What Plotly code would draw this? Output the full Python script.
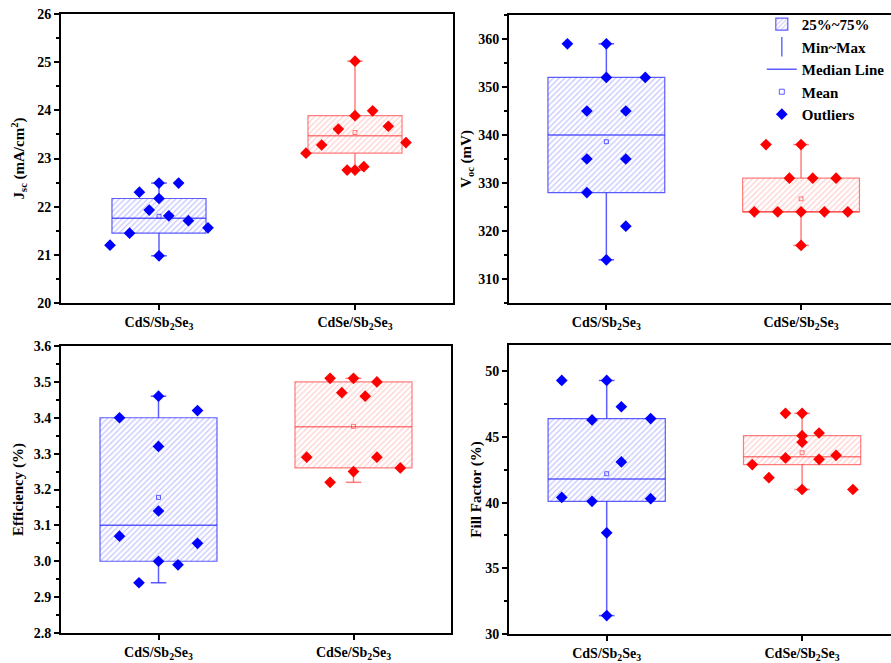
import plotly.graph_objects as go

# ---------------- data ----------------
groups = ["CdS/Sb<sub>2</sub>Se<sub>3</sub>", "CdSe/Sb<sub>2</sub>Se<sub>3</sub>"]
group_x = [1, 2]

# Jsc (mA/cm2)
jsc_cds = [21.20, 21.45, 22.30, 21.93, 22.49, 22.17, 20.98, 21.81, 22.49, 21.71, 21.56]
jsc_cds_off = [-0.25, -0.15, -0.10, -0.05, 0, 0, 0, 0.05, 0.10, 0.15, 0.25]
jsc_cdse = [23.11, 23.28, 23.61, 22.76, 25.02, 23.89, 22.76, 22.83, 23.99, 23.67, 23.33]
jsc_cdse_off = [-0.25, -0.17, -0.085, -0.04, 0, 0, 0, 0.045, 0.09, 0.17, 0.26]
jsc_q1 = [21.45, 23.11]
jsc_med = [21.76, 23.47]
jsc_q3 = [22.17, 23.89]
jsc_mean = [21.80, 23.54]

# Voc (mV)
voc_cds = [359, 359, 352, 352, 345, 345, 335, 335, 328, 321, 314]
voc_cds_off = [-0.20, 0, 0, 0.20, -0.10, 0.10, -0.10, 0.10, -0.10, 0.10, 0]
voc_cdse = [338, 338, 331, 331, 331, 324, 324, 324, 324, 324, 317]
voc_cdse_off = [-0.18, 0, -0.06, 0.06, 0.18, -0.24, -0.12, 0, 0.12, 0.24, 0]
voc_q1 = [328, 324]
voc_med = [340, 324]
voc_q3 = [352, 331]
voc_mean = [338.6, 326.7]

# Efficiency (%)
eff_cds = [3.40, 3.46, 3.42, 3.32, 3.14, 3.07, 3.05, 3.00, 2.99, 2.94]
eff_cds_off = [-0.20, 0, 0.20, 0, 0, -0.20, 0.20, 0, 0.10, -0.10]
eff_cdse = [3.51, 3.51, 3.50, 3.47, 3.46, 3.29, 3.29, 3.26, 3.25, 3.22]
eff_cdse_off = [-0.12, 0, 0.12, -0.06, 0.06, -0.24, 0.12, 0.24, 0, -0.12]
eff_q1 = [3.00, 3.26]
eff_med = [3.10, 3.375]
eff_q3 = [3.40, 3.50]
eff_mean = [3.178, 3.376]

# Fill factor (%)
ff_cds = [49.3, 49.3, 47.3, 46.3, 46.4, 43.1, 40.4, 40.1, 40.3, 37.7, 31.4]
ff_cds_off = [-0.23, 0, 0.075, -0.075, 0.225, 0.075, -0.23, -0.075, 0.225, 0, 0]
ff_cdse = [46.8, 46.8, 45.3, 45.1, 44.6, 43.6, 43.4, 43.3, 42.9, 41.9, 41.0, 41.0]
ff_cdse_off = [-0.085, 0, 0.087, 0, 0, 0.174, -0.085, 0.087, -0.255, -0.17, 0, 0.26]
ff_q1 = [40.1, 42.9]
ff_med = [41.8, 43.5]
ff_q3 = [46.4, 45.1]
ff_mean = [42.2, 43.8]

y_titles = ["J<sub>sc</sub> (mA/cm<sup>2</sup>)", "V<sub>oc</sub> (mV)",
            "Efficiency (%)", "Fill Factor (%)"]

# ---------------- style ----------------
FONT = "Liberation Serif"
pt_col = ["#0000FF", "#FF0000"]
line_col = ["rgba(40,40,255,0.75)", "rgba(255,40,40,0.6)"]
hatch_col = ["rgba(40,40,255,0.55)", "rgba(255,40,40,0.45)"]

panels = [
    dict(vals=[jsc_cds, jsc_cdse], offs=[jsc_cds_off, jsc_cdse_off], q1=jsc_q1, med=jsc_med,
         q3=jsc_q3, mean=jsc_mean, rng=[20, 26], dtick=1, minor=0.5, bw=0.48, so=9,
         xd=[61 / 891, 453 / 891], yd=[(663 - 303) / 663, (663 - 14) / 663], xr=[0.5, 2.5], mir=True),
    dict(vals=[voc_cds, voc_cdse], offs=[voc_cds_off, voc_cdse_off], q1=voc_q1, med=voc_med,
         q3=voc_q3, mean=voc_mean, rng=[305, 365], dtick=10, minor=5, bw=0.6, so=3,
         xd=[509 / 891, 1.0], yd=[(663 - 303) / 663, (663 - 15) / 663], xr=[0.5, 2.462], mir=False),
    dict(vals=[eff_cds, eff_cdse], offs=[eff_cds_off, eff_cdse_off], q1=eff_q1, med=eff_med,
         q3=eff_q3, mean=eff_mean, rng=[2.8, 3.6], dtick=0.1, minor=0.05, bw=0.6, so=6,
         xd=[61 / 891, 451 / 891], yd=[(663 - 633) / 663, (663 - 346) / 663], xr=[0.5, 2.5], mir=True),
    dict(vals=[ff_cds, ff_cdse], offs=[ff_cds_off, ff_cdse_off], q1=ff_q1, med=ff_med,
         q3=ff_q3, mean=ff_mean, rng=[30, 52], dtick=5, minor=2.5, bw=0.6, so=0,
         xd=[509 / 891, 1.0], yd=[(663 - 634) / 663, (663 - 345) / 663], xr=[0.5, 2.455], mir=False),
]

fig = go.Figure()
cap = 0.04

for pi, p in enumerate(panels):
    xa = "x" if pi == 0 else f"x{pi + 1}"
    ya = "y" if pi == 0 else f"y{pi + 1}"
    for gi in range(2):
        gx = group_x[gi]
        vals = p["vals"][gi]
        offs = p["offs"][gi]
        vmin, vmax = min(vals), max(vals)
        first = (pi == 0 and gi == 0)
        # box (25%~75%)
        fig.add_trace(go.Bar(
            x=[gx], y=[p["q3"][gi] - p["q1"][gi]], base=[p["q1"][gi]], width=p["bw"],
            marker=dict(color="white", line=dict(color=line_col[gi], width=1.2),
                        pattern=dict(shape="/", fgcolor=hatch_col[gi], bgcolor="white",
                                     size=4, solidity=0.3)),
            name="25%~75%", showlegend=first, legendrank=1, xaxis=xa, yaxis=ya))
        # whiskers (Min~Max)
        wx = [gx, gx, None, gx, gx, None, gx - cap, gx + cap, None, gx - cap, gx + cap]
        wy = [p["q1"][gi], vmin, None, p["q3"][gi], vmax, None, vmin, vmin, None, vmax, vmax]
        fig.add_trace(go.Scatter(x=wx, y=wy, mode="lines", line=dict(color=line_col[gi], width=1.5),
                                 showlegend=False, xaxis=xa, yaxis=ya))
        # median
        hw = p["bw"] / 2
        fig.add_trace(go.Scatter(x=[gx - hw, gx + hw], y=[p["med"][gi]] * 2, mode="lines",
                                 line=dict(color=line_col[gi], width=1.5),
                                 showlegend=False, xaxis=xa, yaxis=ya))
        # mean
        fig.add_trace(go.Scatter(x=[gx], y=[p["mean"][gi]], mode="markers",
                                 marker=dict(symbol="square-open", size=4, color=line_col[gi],
                                             line=dict(width=1)),
                                 showlegend=False, xaxis=xa, yaxis=ya))
        # data points
        fig.add_trace(go.Scatter(x=[gx + o for o in offs], y=vals, mode="markers",
                                 marker=dict(symbol="diamond", size=9, color=pt_col[gi]),
                                 showlegend=False, xaxis=xa, yaxis=ya))

    ax_x = dict(domain=p["xd"], range=p["xr"], tickvals=group_x, ticktext=groups,
                showline=True, linecolor="black", linewidth=2, mirror=True,
                ticks="outside", ticklen=5, tickwidth=2, tickcolor="black",
                showgrid=False, zeroline=False, automargin=False,
                tickfont=dict(family=FONT, size=14, color="black", weight="bold"),
                anchor=ya)
    ax_y = dict(domain=p["yd"], range=p["rng"], dtick=p["dtick"], tick0=0,
                showline=True, linecolor="black", linewidth=2, mirror=p["mir"],
                ticks="outside", ticklen=5, tickwidth=2, tickcolor="black",
                minor=dict(dtick=p["minor"], ticks="outside", ticklen=3, tickwidth=1.5,
                           tickcolor="black", showgrid=False),
                showgrid=False, zeroline=False, automargin=False,
                tickfont=dict(family=FONT, size=14, color="black", weight="bold"),
                title=dict(text=y_titles[pi], standoff=p["so"],
                           font=dict(family=FONT, size=15, color="black", weight="bold")),
                anchor=xa)
    if p["dtick"] == 0.1:
        ax_y["tickformat"] = ".1f"
    key = "" if pi == 0 else str(pi + 1)
    fig.update_layout({f"xaxis{key}": ax_x, f"yaxis{key}": ax_y})

# legend-only traces
legend_specs = [
    ("Min~Max", dict(mode="markers", marker=dict(symbol="line-ns-open", size=14,
                                                  line=dict(color=line_col[0], width=1.5)))),
    ("Median Line", dict(mode="lines", line=dict(color=line_col[0], width=1.5))),
    ("Mean", dict(mode="markers", marker=dict(symbol="square-open", size=5, color=line_col[0]))),
    ("Outliers", dict(mode="markers", marker=dict(symbol="diamond", size=9, color=pt_col[0]))),
]
for i, (nm, spec) in enumerate(legend_specs):
    fig.add_trace(go.Scatter(x=[None], y=[None], name=nm, legendrank=i + 2,
                             xaxis="x2", yaxis="y2", **spec))

fig.update_layout(
    width=891, height=663, margin=dict(l=0, r=0, t=0, b=0),
    paper_bgcolor="white", plot_bgcolor="white", barmode="overlay",
    legend=dict(x=0.855, y=0.988, xanchor="left", yanchor="top", bgcolor="rgba(0,0,0,0)",
                font=dict(family=FONT, size=15, color="black", weight="bold"),
                tracegroupgap=0, itemwidth=30),
)

fig.write_html("out.html")
